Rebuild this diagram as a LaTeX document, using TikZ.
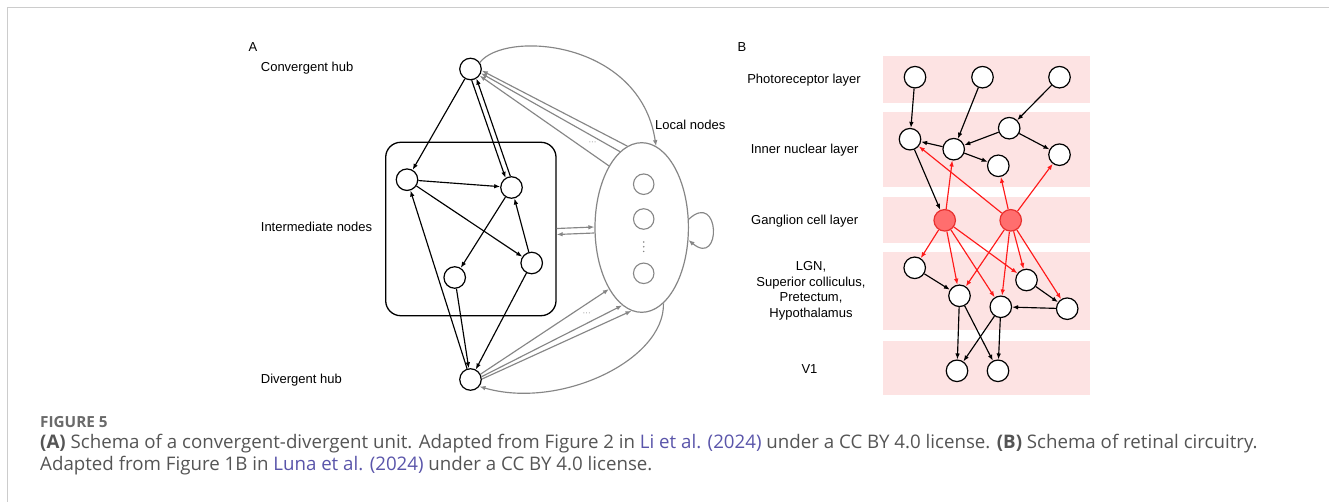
\documentclass[tikz,border=0pt]{standalone}
\usepackage{fontspec}
\setmainfont{Liberation Sans}
\newfontfamily\capfont{Open Sans}
\usetikzlibrary{arrows.meta,shapes.geometric}
\definecolor{framec}{HTML}{CCCCCC}
\definecolor{grayc}{HTML}{868686}
\definecolor{bandc}{HTML}{FDE3E3}
\definecolor{gfill}{HTML}{FF6E6E}
\definecolor{gdraw}{HTML}{E8302E}
\definecolor{redc}{HTML}{FF1A1A}
\definecolor{captc}{HTML}{555555}
\definecolor{figc}{HTML}{6A6A6A}
\definecolor{linkc}{HTML}{5A55AA}
\tikzset{
 lbl/.style={font=\fontsize{13}{15.5}\selectfont, inner sep=0pt},
 nd/.style={circle, draw=black, fill=white, line width=1.2pt, minimum size=21.5pt, inner sep=0pt},
 gnd/.style={nd, draw=gdraw, fill=gfill},
 lnd/.style={circle, draw=grayc, line width=1.1pt, minimum size=20.5pt, inner sep=0pt},
 blk/.style={-{Latex[length=6pt,width=4.6pt]}, line width=1.15pt, black},
 gry/.style={-{Latex[length=6pt,width=4.6pt]}, line width=1.15pt, grayc},
 rd/.style={-{Latex[length=6pt,width=4.6pt]}, line width=1.15pt, redc},
 band/.style={fill=bandc, draw=none},
 capt/.style={font=\capfont\fontsize{18.7}{22}\selectfont, text=captc, inner sep=0pt, anchor=base west},
}
\begin{document}
\begin{tikzpicture}[x=1pt,y=-1pt]
\useasboundingbox (0,0) rectangle (1329,502);
\fill[white] (0,0) rectangle (1329,502);
\draw[framec, line width=1.5pt] (7.3,502) -- (7.3,7.3) -- (1329,7.3);

% ---------------- Panel A ----------------
\node[lbl, anchor=base west] (la) at (248.3,51.7) {A};
\node[lbl, anchor=base west] (lch) at (260.7,71.6) {Convergent hub};
\node[lbl, anchor=base west] (lin) at (260.7,231.6) {Intermediate nodes};
\node[lbl, anchor=base west] (ldh) at (260.7,383.4) {Divergent hub};
\node[lbl, anchor=base west] (lloc) at (655,130) {Local nodes};

\node[draw, rounded corners=15pt, line width=1.3pt, minimum width=170.3pt, minimum height=173.4pt, inner sep=0pt] (box) at (470.85,229) {};
\node[ellipse, draw=grayc, line width=1.2pt, minimum width=93.4pt, minimum height=169.6pt, inner sep=0pt] (loc) at (641.7,227.5) {};

\node[nd] (ch) at (470.5,69) {};
\node[nd] (dh) at (470.5,379.5) {};
\node[nd] (n1) at (407,179.7) {};
\node[nd] (n2) at (511.5,187.5) {};
\node[nd] (n3) at (454.7,277.5) {};
\node[nd] (n4) at (531.7,263) {};

\node[lnd] (l1) at (643.7,184.2) {};
\node[lnd] (l2) at (643.7,219) {};
\node[lnd] (l3) at (643.7,273.3) {};
\foreach \yy in {242,246.7,251.4} \fill[grayc] (643.7,\yy) circle (0.85);

\node[text=grayc, font=\fontsize{8}{8}\selectfont, inner sep=0pt] (d1) at (592.5,143) {···};
\node[text=grayc, font=\fontsize{8}{8}\selectfont, inner sep=0pt] (d2) at (586.7,314) {···};

% black edges
\draw[blk] (ch) -- (n1);
\draw[blk] (ch.-84) -- (n2.122);
\draw[blk] (n2.96) -- (ch.-58);
\draw[blk] (n1) -- (n2);
\draw[blk] (n1) -- (n4);
\draw[blk] (n2) -- (n3);
\draw[blk] (n4) -- (n2);
\draw[blk] (n3) -- (dh);
\draw[blk] (n4) -- (dh);
\draw[blk] (dh) -- (n1);

% gray edges
\draw[gry] (loc.100) -- (ch.-8);
\draw[gry] (loc.106) -- (ch.-22);
\draw[gry] (loc.118) -- (ch.-36);
\draw[gry] (ch.35) .. controls (505,30) and (640,40) .. (loc.80);
\draw[gry] ([yshift=0.5pt]box.east) -- ([yshift=0.5pt]loc.west);
\draw[gry] ([yshift=-5.5pt]loc.west) -- ([yshift=-5.5pt]box.east);
\draw[gry] (dh.28) -- (loc.242);
\draw[gry] (dh.14) -- (loc.256);
\draw[gry] (dh.2) -- (loc.263);
\draw[gry] (loc.-74) .. controls (665,360) and (560,410) .. (dh.-38);
\draw[gry] (loc.10) .. controls (720,190) and (722,268) .. (loc.-15);

% ---------------- Panel B ----------------
\node[lbl, anchor=base west] (lb) at (737.3,51.7) {B};
\fill[band] (883,56) rectangle (1090,103);
\fill[band] (883,112) rectangle (1090,187);
\fill[band] (883,197) rectangle (1090,243);
\fill[band] (883,252) rectangle (1090,330);
\fill[band] (883,341) rectangle (1090,395);

\node[lbl, anchor=base] (t1) at (804,83.3) {Photoreceptor layer};
\node[lbl, anchor=base] (t2) at (804.7,153.6) {Inner nuclear layer};
\node[lbl, anchor=base] (t3) at (804.7,225) {Ganglion cell layer};
\node[lbl, align=center] (t4) at (811,291) {LGN,\\Superior colliculus,\\Pretectum,\\Hypothalamus};
\node[lbl, anchor=base] (t5) at (809.5,373.3) {V1};

\node[nd] (p1) at (915,77.2) {};
\node[nd] (p2) at (982.5,77.2) {};
\node[nd] (p3) at (1059.5,77.2) {};
\node[nd] (i1) at (910,139.2) {};
\node[nd] (i2) at (953.7,149.2) {};
\node[nd] (i3) at (1009.2,128.2) {};
\node[nd] (i4) at (998.3,165.8) {};
\node[nd] (i5) at (1059.5,154.7) {};
\node[gnd] (g1) at (944.7,220.3) {};
\node[gnd] (g2) at (1010.7,220.3) {};
\node[nd] (m1) at (914.7,267.8) {};
\node[nd] (m2) at (959.5,295.8) {};
\node[nd] (m3) at (1026.5,280) {};
\node[nd] (m4) at (1000.8,306.8) {};
\node[nd] (m5) at (1067.2,308.7) {};
\node[nd] (v1) at (957,370.8) {};
\node[nd] (v2) at (998,370.8) {};

\draw[blk] (p1) -- (i1);
\draw[blk] (p2) -- (i2);
\draw[blk] (p3) -- (i3);
\draw[blk] (i2) -- (i1);
\draw[blk] (i3) -- (i2);
\draw[blk] (i3) -- (i5);
\draw[blk] (i2) -- (i4);
\draw[blk] (i1) -- (g1);
\draw[rd] (g1) -- (i2);
\draw[rd] (g2) -- (i1);
\draw[rd] (g2) -- (i4);
\draw[rd] (g2) -- (i5);
\draw[rd] (g1) -- (m1);
\draw[rd] (g1) -- (m2);
\draw[rd] (g1) -- (m4);
\draw[rd] (g1) -- (m3);
\draw[rd] (g2) -- (m2);
\draw[rd] (g2) -- (m4);
\draw[rd] (g2) -- (m3);
\draw[rd] (g2) -- (m5);
\draw[blk] (m1) -- (m2);
\draw[blk] (m3) -- (m5);
\draw[blk] (m5) -- (m4);
\draw[blk] (m2) -- (v1);
\draw[blk] (m2) -- (v2);
\draw[blk] (m4) -- (v1);
\draw[blk] (m4) -- (v2);

% ---------------- Caption ----------------
\node[capt, text=figc, font=\capfont\bfseries\fontsize{15.3}{17}\selectfont] (fig) at (40,427.5) {FIGURE 5};
\node[capt] (c1) at (40,448.5) {\textbf{(A)} Schema of a convergent-divergent unit. Adapted from Figure 2 in \textcolor{linkc}{Li et al. (2024)} under a CC BY 4.0 license. \textbf{(B)} Schema of retinal circuitry.};
\node[capt] (c2) at (40,470.5) {Adapted from Figure 1B in \textcolor{linkc}{Luna et al. (2024)} under a CC BY 4.0 license.};
\end{tikzpicture}
\end{document}
